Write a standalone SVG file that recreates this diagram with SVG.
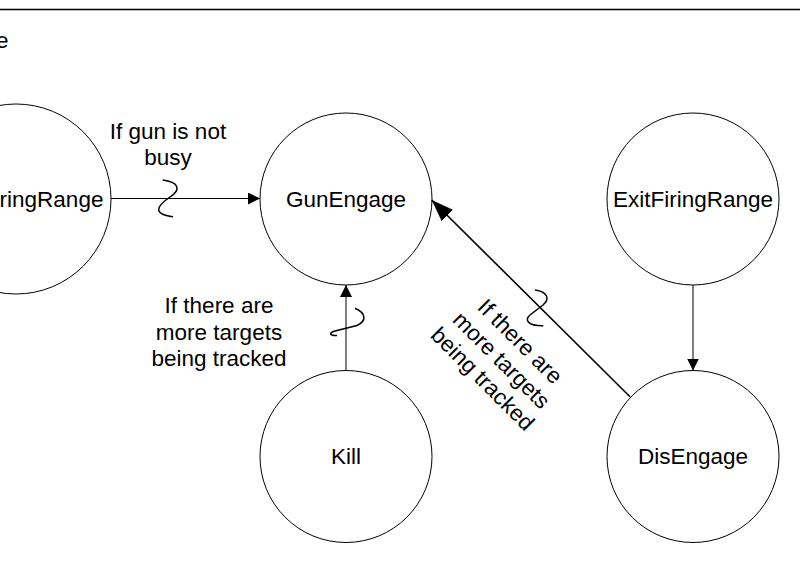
<svg xmlns="http://www.w3.org/2000/svg" width="800" height="573" viewBox="0 0 800 573">
<style>
text{font-family:"Liberation Sans",Arial,sans-serif;font-size:22.5px;fill:#000}
.node circle{fill:#fff;stroke:#000;stroke-width:1}
.node text{text-anchor:middle}
.edge{stroke:#000;stroke-width:1;fill:none}
.sq{stroke:#000;stroke-width:1.5;fill:none}
.lbl{text-anchor:middle}
</style>
<defs>
<marker id="ah" viewBox="0 0 12 12" refX="12" refY="6" markerWidth="12" markerHeight="12" orient="auto" markerUnits="userSpaceOnUse">
<path d="M0,0 L12,6 L0,12 z" fill="#000"/>
</marker>
<marker id="ahL" viewBox="0 0 22 16" refX="22" refY="8" markerWidth="22" markerHeight="16" orient="auto" markerUnits="userSpaceOnUse">
<path d="M0,0 L22,8 L0,16 z" fill="#000"/>
</marker>
</defs>
<rect width="800" height="573" fill="#fff"/>
<line x1="0" y1="9.5" x2="800" y2="9.5" stroke="#000" stroke-width="1.3"/>
<text x="-4" y="48">e</text>

<g id="EnterFiringRange" class="node">
<circle cx="16" cy="199" r="95"/>
<text x="51.5" y="207">ringRange</text>
</g>
<g id="GunEngage" class="node">
<circle cx="346" cy="199" r="86"/>
<text x="346" y="207">GunEngage</text>
</g>
<g id="ExitFiringRange" class="node">
<circle cx="693" cy="199" r="86"/>
<text x="693" y="207">ExitFiringRange</text>
</g>
<g id="Kill" class="node">
<circle cx="346" cy="456.5" r="86"/>
<text x="346" y="464">Kill</text>
</g>
<g id="DisEngage" class="node">
<circle cx="693" cy="456.5" r="86"/>
<text x="693" y="464">DisEngage</text>
</g>

<g id="connectors">
<path class="edge" d="M111,198.5 L260,198.5" marker-end="url(#ah)"/>
<path class="sq" d="M162.7,180 C178,182 182,189 170,197 C157,206 152,214 173,216.7"/>
<text class="lbl" x="168" y="139">If gun is not</text>
<text class="lbl" x="168" y="165">busy</text>

<path class="edge" d="M346,370.5 L346,285" marker-end="url(#ah)"/>
<path class="sq" d="M355,308.3 C366,313 367,321 357,325.5 L335,331 C328,333 330,336 337,335.5"/>
<text class="lbl" x="219" y="313">If there are</text>
<text class="lbl" x="219" y="339.5">more targets</text>
<text class="lbl" x="219" y="366">being tracked</text>

<path class="edge" d="M693,285 L693,370.5" marker-end="url(#ah)"/>

<path class="edge" style="stroke-width:1.6" d="M630,396.7 L431.7,200" marker-end="url(#ahL)"/>
<path class="sq" d="M535,290 C548,292 550,299 543,305 L530,315 C524,320 528,326 543.3,325.7"/>
<g transform="translate(514.8,346.8) rotate(45)">
<text class="lbl" x="0" y="0">If there are</text>
<text class="lbl" x="0" y="26.5">more targets</text>
<text class="lbl" x="0" y="53">being tracked</text>
</g>
</g>
</svg>
